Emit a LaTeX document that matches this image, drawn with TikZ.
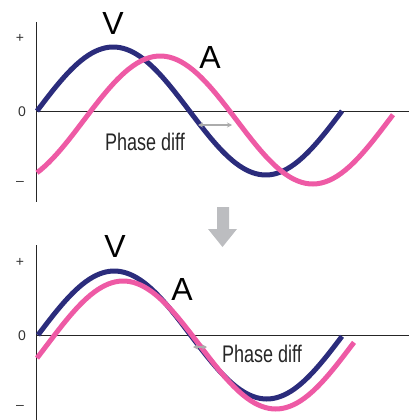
\documentclass[tikz,border=0pt]{standalone}
\usepackage{fontspec}
\setmainfont{Liberation Sans}
\newfontfamily\narrowfont[FakeStretch=0.75]{Liberation Sans}
\usepackage{tikz}
\usetikzlibrary{arrows.meta}

\definecolor{vblue}{HTML}{2B2C7C}
\definecolor{apink}{HTML}{EE5AA5}
\definecolor{arrgray}{HTML}{BCBDC0}

\begin{document}
\begin{tikzpicture}[
			x=1pt, y=-1pt,
			>=Stealth,
			axis/.style={line width=1pt, black!85},
			vcurve/.style={line width=5pt, vblue},
			acurve/.style={line width=5pt, apink},
			tick/.style={font=\fontsize{14}{14}\selectfont, inner sep=0pt, black!80},
			big/.style={font=\fontsize{32}{32}\selectfont, inner sep=0pt},
			diff/.style={font=\narrowfont\fontsize{24}{24}\selectfont, inner sep=0pt, black!85},
			gap/.style={<->, line width=1.1pt, gray!65, >={Stealth[length=5pt, width=5pt]}}
		]
		\useasboundingbox (0,0) rectangle (409,420);

		% eixos
		\draw[axis] (36,22) -- (36,202);
		\draw[axis] (36,111) -- (409,111);
		\draw[axis] (36,245) -- (36,420);
		\draw[axis] (36,335) -- (409,335);

		\foreach \oy/\nm in {111/t,335/b} {
				\node[tick] (plus\nm) at (20,\oy-73) {+};
				\node[tick] (zero\nm) at (22,\oy+1) {0};
				\node[tick] (minus\nm) at (20,\oy+72) {--};
			}

		% painel de cima
		\draw[vcurve] plot[domain=37:342, samples=90] (\x, {111-64*sin(1.18033*(\x-37))});
		\draw[acurve] plot[domain=37:393, samples=90] (\x, {120-64*sin(1.18033*(\x-84))});

		\node[big] (vt) at (113,23) {V};
		\node[big] (at) at (210,57) {A};
		\node[diff] (pdt) at (145,142) {Phase diff};
		\coordinate (gtl) at (198,125);
		\coordinate (gtr) at (232,125);
		\draw[gap] (gtl) -- (gtr);

		% seta grande
		\fill[arrgray] (217,207) -- (229,207) -- (229,229) -- (237,229)
		-- (222.5,247) -- (208,229) -- (217,229) -- cycle;

		% painel de baixo
		\draw[vcurve] plot[domain=38:342, samples=90] (\x, {335-64*sin(1.18033*(\x-38))});
		\draw[acurve] plot[domain=37:354, samples=90] (\x, {345-64*sin(1.18033*(\x-47))});

		\node[big] (vb) at (115,246) {V};
		\node[big] (ab) at (182,289) {A};
		\node[diff] (pdb) at (262,354) {Phase diff};
		\coordinate (gbl) at (193,347);
		\coordinate (gbr) at (207,347);
		\draw[gap] (gbl) -- (gbr);
	\end{tikzpicture}
\end{document}
